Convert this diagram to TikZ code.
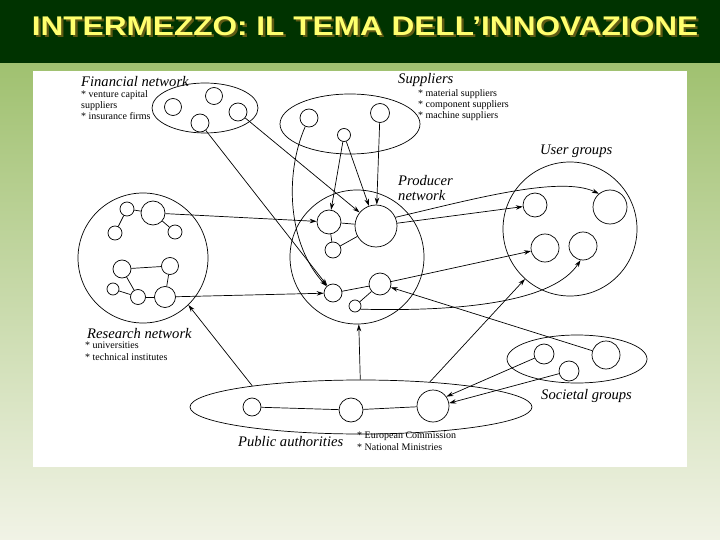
\documentclass[tikz,border=0pt]{standalone}
\usepackage{fontspec}
\setmainfont{Liberation Serif}
\newfontfamily\headfont{Liberation Sans}
\usetikzlibrary{arrows.meta}
\usetikzlibrary{shapes}

\definecolor{bandGreen}{RGB}{0,51,0}
\definecolor{slideTop}{RGB}{160,193,112}
\definecolor{slideBottom}{RGB}{241,243,230}
\definecolor{titleYellow}{RGB}{255,255,110}
\definecolor{titleShade}{RGB}{95,90,20}

\newcommand{\slidetitle}{INTERMEZZO: IL TEMA DELL’INNOVAZIONE}

\begin{document}
\begin{tikzpicture}[x = 1pt, y = -1pt]
	\tikzstyle{groupStyle} = [draw, inner sep = 0pt, line width = 0.7pt]
	\tikzstyle{ovalStyle} = [groupStyle, shape = ellipse]
	\tikzstyle{ringStyle} = [groupStyle, shape = circle]
	\tikzstyle{actorStyle} = [shape = circle, draw, inner sep = 0pt, line width = 0.7pt]
	\tikzstyle{linkStyle} = [line width = 0.7pt]
	\tikzstyle{flowStyle} = [line width = 0.7pt, -{Stealth[length = 7pt, width = 4.5pt]}]
	\tikzstyle{headStyle} = [font = \fontsize{14.6}{15.5}\selectfont\itshape, anchor = west, inner sep = 0pt, align = left]
	\tikzstyle{listStyle} = [font = \fontsize{10}{11.3}\selectfont, anchor = north west, inner sep = 0pt, align = left]
	\tikzstyle{titleStyle} = [font = \headfont\bfseries\fontsize{27}{30}\selectfont, inner sep = 0pt, text = titleYellow]
	% slide background
	\useasboundingbox (0,0) rectangle (720,540);
	\shade[top color = slideTop, bottom color = slideBottom] (0,63) rectangle (720,540);
	\fill[bandGreen] (0,0) rectangle (720,63);
	\fill[white] (33,71) rectangle (687,467);
	\node[titleStyle] (title) at (365,27) {\scalebox{1.17}[1]{\makebox[0pt][l]{\hspace{2pt}\raisebox{-2pt}{\color{titleShade}\slidetitle}}\slidetitle}};
	% groups
	\node[ovalStyle, minimum width = 106pt, minimum height = 50pt] (fn) at (205,108) {};
	\node[ovalStyle, minimum width = 140pt, minimum height = 60pt] (sp) at (350,124) {};
	\node[ringStyle, minimum size = 134pt] (pn) at (357,257) {};
	\node[ringStyle, minimum size = 134pt] (ug) at (570,229) {};
	\node[ringStyle, minimum size = 130pt] (rn) at (143,258) {};
	\node[ovalStyle, minimum width = 140pt, minimum height = 48pt] (sg) at (577,359) {};
	\node[ovalStyle, minimum width = 342pt, minimum height = 54pt] (pa) at (361,407) {};
	% labels
	\node[headStyle] (fnLabel) at (81,82) {Financial network};
	\node[listStyle] (fnList) at (81,90) {* venture capital\\suppliers\\* insurance firms};
	\node[headStyle] (spLabel) at (398,80) {Suppliers};
	\node[listStyle] (spList) at (418,89) {* material suppliers\\* component suppliers\\* machine suppliers};
	\node[headStyle, anchor = north west] (pnLabel) at (398,175) {Producer\\network};
	\node[headStyle] (ugLabel) at (540,151) {User groups};
	\node[headStyle] (rnLabel) at (87,334) {Research network};
	\node[listStyle] (rnList) at (85,342) {* universities\\* technical institutes};
	\node[headStyle] (sgLabel) at (541,396) {Societal groups};
	\node[headStyle] (paLabel) at (238,442) {Public authorities};
	\node[listStyle] (paList) at (357,432) {* European Commission\\* National Ministries};
	% actors
	\node[actorStyle, minimum size = 17pt] (f0) at (173,107) {};
	\node[actorStyle, minimum size = 17pt] (f1) at (214,96) {};
	\node[actorStyle, minimum size = 18pt] (f2) at (200,123) {};
	\node[actorStyle, minimum size = 18pt] (f3) at (238,112) {};
	\node[actorStyle, minimum size = 18pt] (s0) at (309,118) {};
	\node[actorStyle, minimum size = 13pt] (s1) at (344,135) {};
	\node[actorStyle, minimum size = 19pt] (s2) at (380,113) {};
	\node[actorStyle, minimum size = 42pt] (p0) at (376,226) {};
	\node[actorStyle, minimum size = 24pt] (p1) at (329,222) {};
	\node[actorStyle, minimum size = 16pt] (p2) at (333,250) {};
	\node[actorStyle, minimum size = 18pt] (p3) at (333,293) {};
	\node[actorStyle, minimum size = 22pt] (p4) at (380,284) {};
	\node[actorStyle, minimum size = 12pt] (p5) at (355,306) {};
	\node[actorStyle, minimum size = 24pt] (u0) at (535,205) {};
	\node[actorStyle, minimum size = 34pt] (u1) at (610,207) {};
	\node[actorStyle, minimum size = 28pt] (u2) at (545,248) {};
	\node[actorStyle, minimum size = 28pt] (u3) at (583,246) {};
	\node[actorStyle, minimum size = 24pt] (r0) at (153,213) {};
	\node[actorStyle, minimum size = 14pt] (r1) at (127,209) {};
	\node[actorStyle, minimum size = 14pt] (r2) at (115,233) {};
	\node[actorStyle, minimum size = 14pt] (r3) at (175,232) {};
	\node[actorStyle, minimum size = 18pt] (r4) at (122,269) {};
	\node[actorStyle, minimum size = 17pt] (r5) at (170,266) {};
	\node[actorStyle, minimum size = 12pt] (r6) at (113,289) {};
	\node[actorStyle, minimum size = 15pt] (r7) at (138,297) {};
	\node[actorStyle, minimum size = 21pt] (r8) at (165,297) {};
	\node[actorStyle, minimum size = 20pt] (g0) at (544,354) {};
	\node[actorStyle, minimum size = 20pt] (g1) at (569,371) {};
	\node[actorStyle, minimum size = 28pt] (g2) at (606,355) {};
	\node[actorStyle, minimum size = 18pt] (a0) at (252,407) {};
	\node[actorStyle, minimum size = 24pt] (a1) at (351,410) {};
	\node[actorStyle, minimum size = 32pt] (a2) at (433,406) {};
	% ties inside groups
	\draw[linkStyle] (p1) -- (p0);
	\draw[linkStyle] (p2) -- (p0);
	\draw[linkStyle] (p1) -- (p2);
	\draw[linkStyle] (p3) -- (p4);
	\draw[linkStyle] (p4) -- (p5);
	\draw[linkStyle] (r1) -- (r0);
	\draw[linkStyle] (r1) -- (r2);
	\draw[linkStyle] (r0) -- (r3);
	\draw[linkStyle] (r4) -- (r5);
	\draw[linkStyle] (r4) -- (r7);
	\draw[linkStyle] (r6) -- (r7);
	\draw[linkStyle] (r7) -- (r8);
	\draw[linkStyle] (r8) -- (r5);
	\draw[linkStyle] (a0) -- (a1);
	\draw[linkStyle] (a1) -- (a2);
	% flows between groups
	\draw[flowStyle] (f3) -- (p0);
	\draw[flowStyle] (f2) -- (p3);
	\draw[flowStyle] (s0) .. controls (284,175) and (288,245) .. (p3);
	\draw[flowStyle] (s1) -- (p1);
	\draw[flowStyle] (s1) -- (p0);
	\draw[flowStyle] (s2) -- (p0);
	\draw[flowStyle] (r0) -- (p1);
	\draw[flowStyle] (r8) -- (p3);
	\draw[flowStyle] (p0) -- (u0);
	\draw[flowStyle] (p0.24) .. controls (470,200) and (560,175) .. (u1.130);
	\draw[flowStyle] (p4) -- (u2);
	\draw[flowStyle] (p5.-30) .. controls (470,312) and (555,300) .. (u3.-100);
	\draw[flowStyle] (g2) -- (p4);
	\draw[flowStyle] (pa) -- (pn);
	\draw[flowStyle] (pa.169) -- (rn.-46);
	\draw[flowStyle] (pa.20) -- (ug.-132);
	\draw[flowStyle] (g0) -- (a2.35);
	\draw[flowStyle] (g1) -- (a2.10);
\end{tikzpicture}
\end{document}
